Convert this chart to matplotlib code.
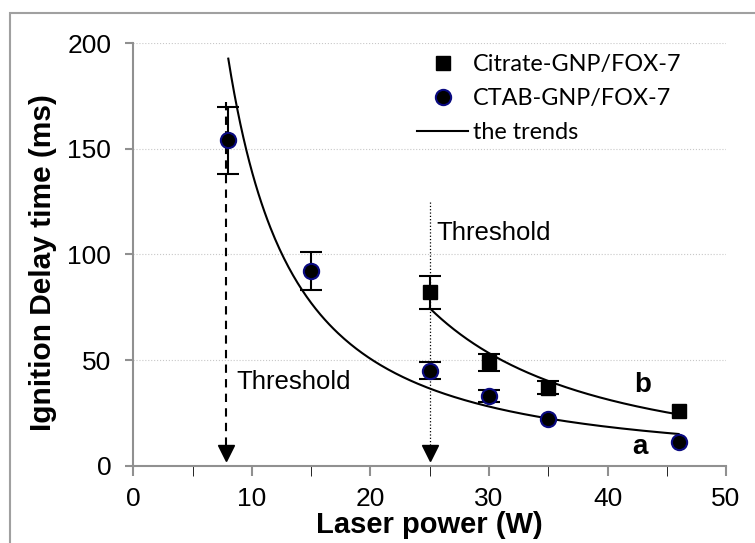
import matplotlib.pyplot as plt
import matplotlib.patches as patches
import numpy as np

# CTAB-GNP/FOX-7 (curve a)
ctab_x = np.array([8, 15, 25, 30, 35, 46])
ctab_y = np.array([154, 92, 45, 33, 22, 11])
ctab_err = np.array([16, 9, 4, 3, 0, 0])

# Citrate-GNP/FOX-7 (curve b)
cit_x = np.array([25, 30, 35, 46])
cit_y = np.array([82, 49, 37, 26])
cit_err = np.array([8, 4, 3, 0])

thresholds = [7.8, 25]
x_ticks = [0, 10, 20, 30, 40, 50]
y_ticks = [0, 50, 100, 150, 200]

plt.rcParams['font.family'] = ['Liberation Sans', 'DejaVu Sans']

fig = plt.figure(figsize=(7.55, 5.43), dpi=100)
ax = fig.add_axes([0.1768, 0.1424, 0.7848, 0.7779])

# outer frame of the chart area
fig.patches.append(patches.Rectangle((10 / 755, -0.1), 1.2, (543 - 13) / 543 + 0.1,
                                     transform=fig.transFigure, fill=False,
                                     edgecolor='#a0a0a0', linewidth=1.5))

for yv in y_ticks[1:]:
    ax.plot([0, 50], [yv, yv], color='#c8c8c8', linestyle=':', linewidth=0.8, zorder=0)

# power-law trend lines (same as spreadsheet power trendline)
def power_fit(x, y):
    b, a = np.polyfit(np.log(x), np.log(y), 1)
    return lambda t: np.exp(a) * t ** b

fa = power_fit(ctab_x, ctab_y)
fb = power_fit(cit_x, cit_y)
ta = np.linspace(ctab_x.min(), ctab_x.max(), 300)
tb = np.linspace(cit_x.min(), cit_x.max(), 300)
ax.plot(ta, fa(ta), color='black', linewidth=1.5, zorder=2)
ax.plot(tb, fb(tb), color='black', linewidth=1.5, zorder=2)

# threshold arrows
ax.plot([thresholds[0], thresholds[0]], [172, 8], color='black', linestyle=(0, (4, 3)), linewidth=1.5)
ax.plot([thresholds[1], thresholds[1]], [125, 8], color='black', linestyle=':', linewidth=0.9)
ax.plot(thresholds, [6, 6], linestyle='none', marker='v', markersize=11, color='black')
ax.text(8.7, 39.5, 'Threshold', fontsize=18.5, ha='left', va='center')
ax.text(25.6, 110, 'Threshold', fontsize=18.5, ha='left', va='center')
ax.text(43, 38, 'b', fontsize=20, fontweight='bold', ha='center', va='center')
ax.text(42.7, 8.8, 'a', fontsize=20, fontweight='bold', ha='center', va='center')

# error bars only where there is an error
m = cit_err > 0
ax.errorbar(cit_x[m], cit_y[m], yerr=cit_err[m], fmt='none', ecolor='black',
            capsize=8, elinewidth=1.5, capthick=1.5, zorder=3)
m = ctab_err > 0
ax.errorbar(ctab_x[m], ctab_y[m], yerr=ctab_err[m], fmt='none', ecolor='black',
            capsize=8, elinewidth=1.5, capthick=1.5, zorder=3)
ax.plot(cit_x, cit_y, 's', color='black', markersize=9.5, zorder=4, label='Citrate-GNP/FOX-7')
ax.plot(ctab_x, ctab_y, 'o', markerfacecolor='black', markeredgecolor='#0a0a80',
        markeredgewidth=1.5, markersize=11, zorder=4, label='CTAB-GNP/FOX-7')
ax.plot([], [], color='black', linewidth=1.5, label='the trends')

ax.set_xlim(0, 50)
ax.set_ylim(0, 200)
ax.set_xticks(x_ticks)
ax.set_xticks([5, 15, 25, 35, 45], minor=True)
ax.set_yticks(y_ticks)
ax.tick_params(axis='both', labelsize=19, color='#909090', width=1.5)
ax.tick_params(axis='x', which='both', direction='out', length=7, pad=8)
ax.tick_params(axis='y', direction='out', length=6, pad=10)
for s in ['top', 'right']:
    ax.spines[s].set_visible(False)
for s in ['left', 'bottom']:
    ax.spines[s].set_color('#909090')
    ax.spines[s].set_linewidth(1.5)

ax.set_xlabel('Laser power (W)', fontsize=21, fontweight='bold', labelpad=0)
ax.set_ylabel('Ignition Delay time (ms)', fontsize=21.5, fontweight='bold')
ax.yaxis.set_label_coords(-0.129, 0.48)

ax.legend(loc='upper left', bbox_to_anchor=(0.4785, 0.974), frameon=False,
          prop={'family': 'Lato', 'size': 16.8}, handlelength=2.2, handletextpad=0.2,
          labelspacing=0.55, borderpad=0, borderaxespad=0)

fig.savefig('out.png', dpi=100)
